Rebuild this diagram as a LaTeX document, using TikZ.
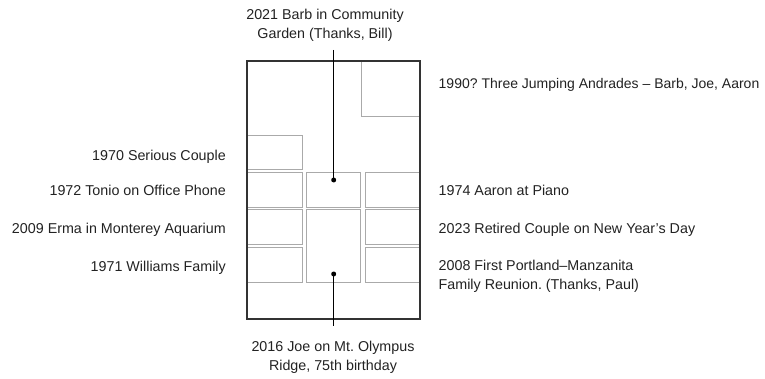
\documentclass[tikz,border=0pt]{standalone}
\usepackage{fontspec}
\setmainfont{Liberation Sans}
\frenchspacing
\definecolor{txt}{HTML}{222222}
\definecolor{frame}{HTML}{333333}
\definecolor{box}{HTML}{AAAAAA}
\begin{document}
\begin{tikzpicture}[x=1pt,y=-1pt,
  lbl/.style={inner sep=0pt,text=txt,font=\fontsize{14.3}{19.3}\selectfont},
  lleft/.style={lbl,anchor=base east},
  lright/.style={lbl,anchor=base west,align=left},
  lcenter/.style={lbl,anchor=base,align=center},
  outer/.style={draw=frame,line width=1.3pt},
  photo/.style={draw=box,line width=1pt},
  conn/.style={draw=black,line width=1.2pt},
  pin/.style={circle,fill=black,inner sep=0pt,minimum size=5pt}]
\useasboundingbox (0,0) rectangle (765,379);
% photos
\draw[photo] (361,61) rectangle (420,117);
\draw[photo] (247,135.3) rectangle (302,170);
\draw[photo] (247,172.3) rectangle (302,207.3);
\draw[photo] (306.3,172.3) rectangle (360.7,207.3);
\draw[photo] (365.3,172.3) rectangle (420,207.3);
\draw[photo] (247,210) rectangle (302,244.7);
\draw[photo] (306.3,210) rectangle (360.7,282);
\draw[photo] (365.3,210) rectangle (420,244.7);
\draw[photo] (247,247.3) rectangle (302,282);
\draw[photo] (365.3,247.3) rectangle (420,282);
% frame
\draw[outer] (247,61) rectangle (420,319);
% pins and connectors
\node[pin] (ptop) at (333.7,180) {};
\node[pin] (pbot) at (333.7,274) {};
\coordinate (ttop) at (333.7,50);
\coordinate (tbot) at (333.7,325.7);
\draw[conn] (ttop) -- (ptop.center);
\draw[conn] (pbot.center) -- (tbot);
% labels
\node[lcenter] (lbarb) at (325,38.5) {2021 Barb in Community\\Garden (Thanks, Bill)};
\node[lcenter] (ljoe) at (333,370.5) {2016 Joe on Mt. Olympus\\Ridge, 75th birthday};
\node[lleft] (l1970) at (226,160.5) {1970 Serious Couple};
\node[lleft] (l1972) at (226,195.5) {1972 Tonio on Office Phone};
\node[lleft] (l2009) at (226,233.5) {2009 Erma in Monterey Aquarium};
\node[lleft] (l1971) at (226,272) {1971 Williams Family};
\node[lright,font=\fontsize{14}{19.3}\selectfont] (l1990) at (438.5,88.5) {1990? Three Jumping Andrades – Barb, Joe, Aaron};
\node[lright] (l1974) at (438.5,195.5) {1974 Aaron at Piano};
\node[lright] (l2023) at (438.5,233.5) {2023 Retired Couple on New Year’s Day};
\node[lright] (l2008) at (438.5,289.3) {2008 First Portland–Manzanita\\Family Reunion. (Thanks, Paul)};
\end{tikzpicture}
\end{document}
